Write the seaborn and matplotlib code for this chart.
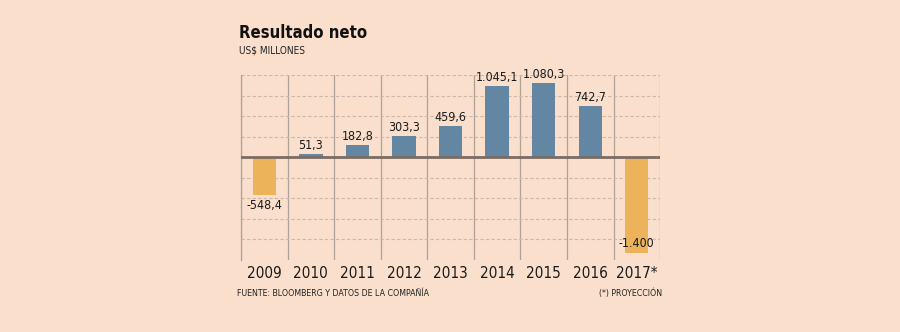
import matplotlib
matplotlib.use("Agg")
import matplotlib.pyplot as plt
from matplotlib import font_manager as fm
import seaborn as sns
import pandas as pd
import numpy as np

years = ["2009", "2010", "2011", "2012", "2013", "2014", "2015", "2016", "2017*"]
values = [-548.4, 51.3, 182.8, 303.3, 459.6, 1045.1, 1080.3, 742.7, -1400.0]
value_labels = ["-548,4", "51,3", "182,8", "303,3", "459,6", "1.045,1", "1.080,3", "742,7", "-1.400"]
y_ticks = [-1500, -1200, -900, -600, -300, 0, 300, 600, 900, 1200]

BG = "#f9dfcc"
BLUE = "#6386a2"
ORANGE = "#ecb35a"

sns.set_theme(style="white")
plt.rcParams["font.family"] = ["DejaVu Sans"]

# prefer a condensed humanist face if available
condensed = False
try:
    p = fm.findfont(fm.FontProperties(family="DejaVu Sans", stretch="condensed"), fallback_to_default=False)
    condensed = "Condensed" in p
except Exception:
    condensed = False
if condensed:
    plt.rcParams["font.stretch"] = "condensed"
    scale = 1.0
else:
    scale = 0.88

df = pd.DataFrame({"year": years, "value": values})
df["tone"] = np.where(df["value"] < 0, "neg", "pos")

fig = plt.figure(figsize=(9, 3.32), dpi=100, facecolor=BG)
ax = fig.add_axes([0.2678, 0.2169, 0.4656, 0.5572])
ax.set_facecolor(BG)

sns.barplot(data=df, x="year", y="value", hue="tone", palette={"neg": ORANGE, "pos": BLUE},
            width=0.5, dodge=False, legend=False, ax=ax, saturation=1, zorder=3,
            linewidth=0, edgecolor="none")

ax.set_xlim(-0.5, len(years) - 0.5)
ax.set_ylim(y_ticks[0], y_ticks[-1])
ax.set_yticks(y_ticks)
ax.set_yticklabels([])
ax.yaxis.grid(True, color="#c9b8ab", linestyle=(0, (3, 2)), linewidth=0.8, zorder=0)
ax.set_xticks(np.arange(-0.5, len(years) + 0.5, 1.0), minor=True)
ax.xaxis.grid(True, which="minor", color="#aea297", linestyle="-", linewidth=0.9, zorder=0)
ax.xaxis.grid(False, which="major")
ax.tick_params(axis="both", which="both", length=0)
ax.set_xticks(range(len(years)))
ax.set_xticklabels(years, fontsize=11 * scale, color="#1a1a1a")
ax.tick_params(axis="x", pad=4)
ax.set_xlabel("")
ax.set_ylabel("")
for s in ["top", "right", "bottom"]:
    ax.spines[s].set_visible(False)
ax.spines["left"].set_color("#aea297")
ax.spines["left"].set_linewidth(0.9)
ax.axhline(0, color="#7b6c62", linewidth=2, zorder=4)

lab_size = 8.9 * scale
for i, (v, lab) in enumerate(zip(values, value_labels)):
    if v >= 0:
        ax.annotate(lab, (i, v), xytext=(0, 1.5), textcoords="offset points",
                    ha="center", va="bottom", fontsize=lab_size, color="#1a1a1a", zorder=5)
    elif v > -1000:
        ax.annotate(lab, (i, v), xytext=(0, -3), textcoords="offset points",
                    ha="center", va="top", fontsize=lab_size, color="#1a1a1a", zorder=5)
    else:
        ax.annotate(lab, (i, v), xytext=(0, 2.5), textcoords="offset points",
                    ha="center", va="bottom", fontsize=lab_size, color="#1a1a1a", zorder=5)

fig.text(0.2656, 0.885, "Resultado neto", fontsize=12 * scale, fontweight="bold", color="#111111",
         ha="left", va="baseline")
fig.text(0.2656, 0.840, "US$ MILLONES", fontsize=7.2 * scale, color="#222222", ha="left", va="baseline")
fig.text(0.2633, 0.108, "FUENTE: BLOOMBERG Y DATOS DE LA COMPAÑÍA", fontsize=6.35 * scale, color="#222222",
         ha="left", va="baseline")
fig.text(0.7356, 0.108, "(*) PROYECCIÓN", fontsize=6.35 * scale, color="#222222", ha="right", va="baseline")

fig.savefig("out.png", dpi=100, facecolor=BG)
